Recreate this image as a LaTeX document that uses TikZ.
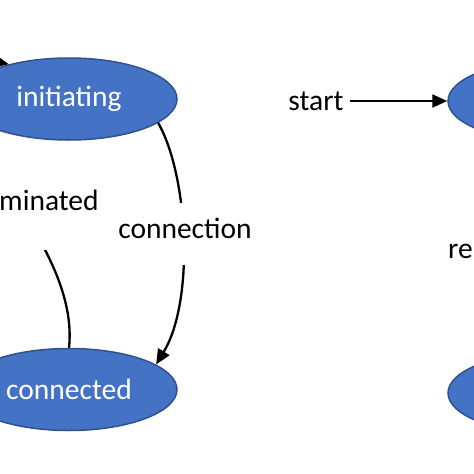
\documentclass[tikz,border=0pt]{standalone}
\usepackage{fontspec}
\setmainfont{Carlito}
\usetikzlibrary{shapes.geometric,arrows.meta}
\definecolor{stfill}{HTML}{4472C4}
\definecolor{stborder}{HTML}{2F528F}
\tikzset{
  state/.style={ellipse,fill=stfill,draw=stborder,line width=1.5pt,
    minimum width=216pt,minimum height=82pt,inner sep=0pt,text=white},
  conn/.style={line width=2.3pt,-{Triangle[length=15pt,width=13pt]}},
  lbl/.style={fill=white,inner xsep=2pt,text=black}
}
\begin{document}
\begin{tikzpicture}[x=1pt,y=-1pt,font=\fontsize{29.5}{35}\selectfont]
\useasboundingbox (0,0) rectangle (474,474);
\node[state] (ini) at (69,99) {initiating};
\node[state] (con) at (69,389.5) {connected};
\node[state] (rt) at (556,101) {};
\node[state] (rb) at (556,393) {};
\node[inner xsep=6pt] (start) at (316,101) {start};
\draw[conn] (start.east) -- (rt.west);
\draw[conn] (ini.-15) .. controls (188,175) and (195,300) .. (con.16);
\draw[conn] (con.north) .. controls (85,200) and (-200,20) .. (ini.150);
\node[lbl,anchor=base,text height=20pt,text depth=12pt,inner ysep=15pt] (lcon) at (185,238) {connection};
\node[lbl,anchor=base west,inner xsep=0pt,text height=34pt,text depth=36pt,inner ysep=4pt] (lterm) at (-1,210) {minated};
\node[anchor=base west,inner sep=0pt] (lre) at (448,258) {re};
\end{tikzpicture}
\end{document}
